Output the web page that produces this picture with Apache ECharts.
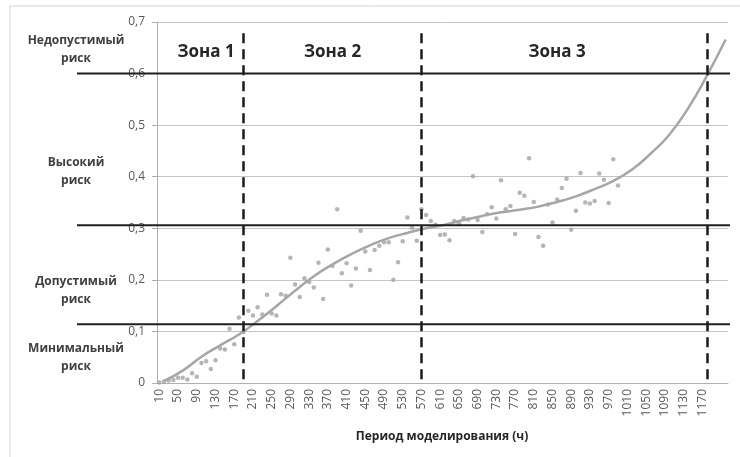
<!DOCTYPE html>
<html><head><meta charset="utf-8">
<script src="https://cdn.jsdelivr.net/npm/echarts@6/dist/echarts.min.js"></script>
<style>html,body{margin:0;padding:0;background:#fff}#c{width:740px;height:457px}</style>
</head><body><div id="c"></div>
<script>
const categories = [10,20,30,40,50,60,70,80,90,100,110,120,130,140,150,160,170,180,190,200,
 210,220,230,240,250,260,270,280,290,300,310,320,330,340,350,360,370,380,390,400,
 410,420,430,440,450,460,470,480,490,500,510,520,530,540,550,560,570,580,590,600,
 610,620,630,640,650,660,670,680,690,700,710,720,730,740,750,760,770,780,790,800,
 810,820,830,840,850,860,870,880,890,900,910,920,930,940,950,960,970,980,990,1000,
 1010,1020,1030,1040,1050,1060,1070,1080,1090,1100,1110,1120,1130,1140,1150,1160,1170,1180,1190,1200,
 1210,1220];
const xTickLabels = [10,50,90,130,170,210,250,290,330,370,410,450,490,530,570,610,650,690,730,770,810,850,890,930,970,1010,1050,1090,1130,1170];
const yTickLabels = ['0','0,1','0,2','0,3','0,4','0,5','0,6','0,7'];
// observed risk values for periods 10..990
const riskValues = [0.001,0.003,0.005,0.006,0.010,0.010,0.007,0.019,0.012,0.039,
 0.042,0.027,0.044,0.067,0.065,0.105,0.075,0.127,0.099,0.140,
 0.131,0.147,0.133,0.171,0.135,0.131,0.172,0.169,0.243,0.191,
 0.167,0.203,0.196,0.185,0.233,0.163,0.259,0.227,0.337,0.213,
 0.232,0.189,0.222,0.295,0.255,0.219,0.258,0.266,0.273,0.273,
 0.200,0.234,0.275,0.321,0.301,0.276,0.337,0.326,0.314,0.307,
 0.287,0.288,0.277,0.314,0.310,0.320,0.317,0.401,0.316,0.293,
 0.327,0.341,0.319,0.393,0.337,0.343,0.289,0.369,0.363,0.436,
 0.351,0.283,0.266,0.346,0.311,0.356,0.378,0.396,0.297,0.334,
 0.407,0.350,0.348,0.353,0.406,0.394,0.349,0.434,0.383];
// trend curve read every 40 h
const trendPeriods = [20,60,100,140,180,220,260,300,340,380,420,460,500,540,580,620,660,700,740,780,820,860,900,940,980,1020,1060,1100,1140,1180,1220];
const trendValues  = [0.004,0.024,0.051,0.073,0.094,0.120,0.149,0.179,0.207,0.230,0.250,0.267,0.281,0.291,0.300,0.307,0.316,0.324,0.331,0.336,0.342,0.351,0.362,0.376,0.392,0.414,0.445,0.482,0.533,0.596,0.666];
const zoneBorders = [190,570,1180];
const zoneNames = ['Зона 1','Зона 2','Зона 3'];
const zoneLabelPeriods = [110,380,860];
const riskLevels = [0.114,0.306,0.6];
const riskNames = [['Недопустимый','риск'],['Высокий','риск'],['Допустимый','риск'],['Минимальный','риск']];
const riskNameValues = [0.647,0.41,0.18,0.05];

const FONT = 'Open Sans';
const chart = echarts.init(document.getElementById('c'));
chart.setOption({
  animation:false,
  backgroundColor:'#fff',
  grid:{left:157,top:22,width:571,height:361},
  xAxis:{type:'category',data:categories.map(String),boundaryGap:true,
    axisLine:{lineStyle:{color:'#b0b0b0',width:1}},
    axisTick:{show:false},
    axisLabel:{rotate:90,margin:6,color:'#595959',fontSize:12,fontFamily:FONT,
      interval:(i,v)=>xTickLabels.indexOf(Number(v))>=0},
    splitLine:{show:false}},
  yAxis:{type:'value',min:0,max:0.7,interval:0.1,
    axisLine:{show:true,lineStyle:{color:'#b0b0b0'}},
    axisTick:{show:true,length:5,lineStyle:{color:'#b0b0b0'}},
    axisLabel:{margin:12,color:'#595959',fontSize:12,fontFamily:FONT,
      formatter:(v)=>yTickLabels[Math.round(v*10)]},
    splitLine:{lineStyle:{color:'#c4c4c4',width:1}}},
  series:[
    {type:'scatter',data:riskValues,symbol:'circle',symbolSize:4.5,
     itemStyle:{color:'#a3a3a3'},z:3,
     markLine:{silent:true,symbol:'none',label:{show:false},
       lineStyle:{color:'#1a1a1a',width:2.5,type:[10,6]},
       data:zoneBorders.map(p=>[{coord:[String(p),0.678]},{coord:[String(p),0]}])}},
    {type:'line',data:trendPeriods.map((p,i)=>[String(p),trendValues[i]]),
     smooth:0.5,showSymbol:false,lineStyle:{color:'#a6a6a6',width:2.5},z:4}
  ]
});

const g = [];
const px = (cat,val)=>chart.convertToPixel({xAxisIndex:0,yAxisIndex:0},[String(cat),val]);
riskLevels.forEach(v=>{
  const y = chart.convertToPixel({yAxisIndex:0},v);
  g.push({type:'line',shape:{x1:77,y1:y,x2:730,y2:y},style:{stroke:'#1f1f1f',lineWidth:2},z:10});
});
zoneNames.forEach((n,i)=>{
  const p = px(zoneLabelPeriods[i],0.65);
  g.push({type:'text',x:p[0],y:52,style:{text:n,font:'bold 17px "'+FONT+'"',fill:'#262626',align:'center',verticalAlign:'middle'},z:11});
});
riskNames.forEach((n,i)=>{
  const y = chart.convertToPixel({yAxisIndex:0},riskNameValues[i]);
  g.push({type:'text',x:76,y:y,style:{text:n.join('\n'),font:'bold 12px "'+FONT+'"',lineHeight:18,fill:'#404040',align:'center',verticalAlign:'middle'},z:11});
});
g.push({type:'text',x:442,y:437,style:{text:'Период моделирования (ч)',font:'bold 12px "'+FONT+'"',fill:'#262626',align:'center',verticalAlign:'middle'},z:11});
g.push({type:'rect',shape:{x:10,y:6,width:760,height:480},style:{fill:null,stroke:'#d0d0d0',lineWidth:1},z:0,silent:true});
chart.setOption({graphic:g});
</script></body></html>
